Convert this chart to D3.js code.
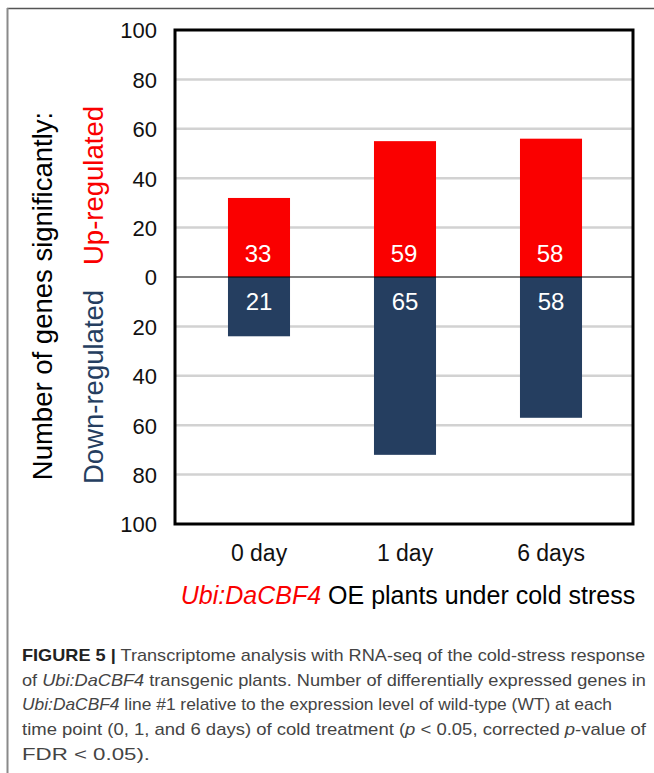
<!DOCTYPE html>
<html>
<head>
<meta charset="utf-8">
<script src="https://cdn.jsdelivr.net/npm/d3@7"></script>
<style>
  html, body { margin: 0; padding: 0; background: #fff; }
  svg { display: block; font-family: "Liberation Sans", Arial, sans-serif; }
</style>
</head>
<body>
<svg id="chart" width="654" height="773"></svg>
<script>
// ---- data ----
const categories = ["0 day", "1 day", "6 days"];
const upValues = [32, 55, 56];
const downValues = [24, 72, 57];
const upLabels = ["33", "59", "58"];
const downLabels = ["21", "65", "58"];
const tickValues = [100, 80, 60, 40, 20, 0, -20, -40, -60, -80, -100];
const tickLabels = ["100", "80", "60", "40", "20", "0", "20", "40", "60", "80", "100"];
const gridValues = [80, 60, 40, 20, -20, -40, -60, -80];
const captionLines = [
  [{t: "FIGURE 5 |", b: true}, {t: " Transcriptome analysis with RNA-seq of the cold-stress response"}],
  [{t: "of "}, {t: "Ubi:DaCBF4", i: true}, {t: " transgenic plants. Number of differentially expressed genes in"}],
  [{t: "Ubi:DaCBF4", i: true}, {t: " line #1 relative to the expression level of wild-type (WT) at each"}],
  [{t: "time point (0, 1, and 6 days) of cold treatment ("}, {t: "p", i: true}, {t: " < 0.05, corrected "}, {t: "p", i: true}, {t: "-value of"}],
  [{t: "FDR < 0.05)."}]
];
const captionWidths = [623, 624, 590, 624, 128];

const RED = "#fa0000";
const NAVY = "#253e60";

const svg = d3.select("#chart");

// frame
svg.append("line").attr("x1", 7).attr("x2", 654).attr("y1", 8.5).attr("y2", 8.5)
  .attr("stroke", "#555").attr("stroke-width", 1.5);
svg.append("line").attr("x1", 7.5).attr("x2", 7.5).attr("y1", 8).attr("y2", 773)
  .attr("stroke", "#8a8a8a").attr("stroke-width", 2);

// scales
const y = d3.scaleLinear().domain([-100, 100]).range([524, 30]);
const x = d3.scaleBand().domain(categories).range([186, 624]).paddingInner(0.575).paddingOuter(0.2875);
const plotLeft = 175, plotRight = 633;

// gridlines
svg.append("g").selectAll("line").data(gridValues).join("line")
  .attr("x1", plotLeft).attr("x2", plotRight)
  .attr("y1", d => y(d)).attr("y2", d => y(d))
  .attr("stroke", "#d2d2d2").attr("stroke-width", 2.5);

// bars
svg.append("g").selectAll("rect").data(categories).join("rect")
  .attr("x", d => x(d)).attr("width", x.bandwidth())
  .attr("y", (d, i) => y(upValues[i])).attr("height", (d, i) => y(0) - y(upValues[i]))
  .attr("fill", RED);
svg.append("g").selectAll("rect").data(categories).join("rect")
  .attr("x", d => x(d)).attr("width", x.bandwidth())
  .attr("y", y(0)).attr("height", (d, i) => y(-downValues[i]) - y(0))
  .attr("fill", NAVY);

// zero line
svg.append("line").attr("x1", plotLeft).attr("x2", plotRight)
  .attr("y1", y(0)).attr("y2", y(0)).attr("stroke", "#000").attr("stroke-width", 1.2);

// plot border
svg.append("rect").attr("x", plotLeft).attr("y", y(100)).attr("width", plotRight - plotLeft)
  .attr("height", y(-100) - y(100)).attr("fill", "none").attr("stroke", "#000").attr("stroke-width", 3);

// data labels
svg.append("g").selectAll("text").data(categories).join("text")
  .attr("x", d => x(d) + x.bandwidth() / 2 - 1).attr("y", y(0) - 15)
  .attr("text-anchor", "middle").attr("fill", "#fff").attr("font-size", 24)
  .text((d, i) => upLabels[i]);
svg.append("g").selectAll("text").data(categories).join("text")
  .attr("x", d => x(d) + x.bandwidth() / 2).attr("y", y(0) + 33)
  .attr("text-anchor", "middle").attr("fill", "#fff").attr("font-size", 24)
  .text((d, i) => downLabels[i]);

// y axis ticks (labels only)
const yAxis = d3.axisLeft(y).tickValues(tickValues).tickSize(0).tickPadding(0)
  .tickFormat((d, i) => tickLabels[i]);
const ga = svg.append("g").attr("transform", `translate(157,0)`).call(yAxis);
ga.select(".domain").remove();
ga.selectAll("text").attr("font-size", 22).attr("fill", "#111")
  .attr("font-family", "Liberation Sans, Arial, sans-serif").attr("dy", "0.36em");

// x axis labels
const xAxis = d3.axisBottom(x).tickSize(0).tickPadding(0);
const gx = svg.append("g").attr("transform", `translate(0,544)`).call(xAxis);
gx.select(".domain").remove();
gx.selectAll("text").attr("font-size", 23).attr("fill", "#111")
  .attr("font-family", "Liberation Sans, Arial, sans-serif").attr("dy", "0.75em");

// x title
const xt = svg.append("text").attr("x", 408).attr("y", 604).attr("text-anchor", "middle")
  .attr("font-size", 25);
xt.append("tspan").attr("fill", RED).attr("font-style", "italic").text("Ubi:DaCBF4");
xt.append("tspan").attr("fill", "#000").text(" OE plants under cold stress");

// y titles
svg.append("text").attr("transform", "translate(52,296) rotate(-90)")
  .attr("text-anchor", "middle").attr("font-size", 27.5).attr("fill", "#000")
  .text("Number of genes significantly:");
svg.append("text").attr("transform", "translate(103,265) rotate(-90)")
  .attr("text-anchor", "start").attr("font-size", 27.5).attr("fill", RED)
  .text("Up-regulated");
svg.append("text").attr("transform", "translate(103,484) rotate(-90)")
  .attr("text-anchor", "start").attr("font-size", 27.5).attr("fill", NAVY)
  .text("Down-regulated");

// caption
const cap = svg.append("g");
captionLines.forEach((line, li) => {
  const t = cap.append("text").attr("x", 22).attr("y", 661 + li * 24.7)
    .attr("font-size", 17).attr("fill", "#444")
    .attr("textLength", captionWidths[li]).attr("lengthAdjust", "spacingAndGlyphs");
  line.forEach(seg => {
    const s = t.append("tspan").text(seg.t);
    if (seg.b) s.attr("font-weight", "bold").attr("fill", "#222");
    if (seg.i) s.attr("font-style", "italic");
  });
});
</script>
</body>
</html>
